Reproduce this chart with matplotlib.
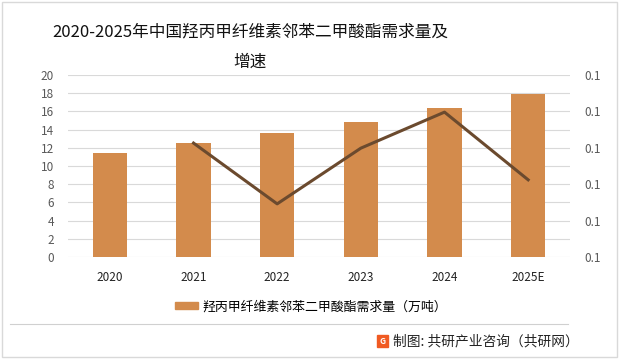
import matplotlib.pyplot as plt
from matplotlib.patches import Rectangle, Patch
from matplotlib.ticker import FormatStrFormatter

plt.rcParams['font.family'] = ['Noto Sans CJK SC', 'DejaVu Sans']

years = ["2020", "2021", "2022", "2023", "2024", "2025E"]
demand = [11.4, 12.5, 13.6, 14.8, 16.4, 17.9]
growth_years = ["2021", "2022", "2023", "2024", "2025E"]
growth = [0.1213, 0.1046, 0.1199, 0.1298, 0.1112]

bar_color = "#D38B4C"
line_color = "#6B4A2E"
grid_color = "#D9D9D9"
tick_color = "#595959"

fig = plt.figure(figsize=(6.19, 3.59), dpi=100)
ax = fig.add_axes([68 / 619, 1 - 257 / 359, 502 / 619, 182 / 359])

x = list(range(len(years)))
ax.bar(x, demand, width=0.41, color=bar_color, zorder=2)
ax.set_ylim(0, 20)
ax.set_yticks(range(0, 21, 2))
ax.set_xlim(-0.5, len(years) - 0.5)
ax.set_xticks(x)
ax.set_xticklabels(years)
ax.grid(axis="y", color=grid_color, linewidth=0.8, zorder=0)
for s in ax.spines.values():
    s.set_visible(False)
ax.tick_params(length=0, labelsize=8.5, colors=tick_color)
ax.tick_params(axis="x", pad=10, colors="#222222")
ax.tick_params(axis="y", pad=10)

ax2 = ax.twinx()
gx = [years.index(y) for y in growth_years]
ax2.plot(gx, growth, color=line_color, linewidth=2.2, zorder=3)
ax2.set_ylim(0.09, 0.14)
ax2.set_yticks([0.09, 0.10, 0.11, 0.12, 0.13, 0.14])
ax2.yaxis.set_major_formatter(FormatStrFormatter("%.1f"))
for s in ax2.spines.values():
    s.set_visible(False)
ax2.tick_params(length=0, labelsize=8.5, colors=tick_color, pad=10)

fig.text(250 / 619, 1 - 32 / 359, "2020-2025年中国羟丙甲纤维素邻苯二甲酸酯需求量及",
         ha="center", va="center", fontsize=12, color="#111111")
fig.text(250 / 619, 1 - 62 / 359, "增速", ha="center", va="center",
         fontsize=12, color="#111111")

fig.legend(handles=[Patch(color=bar_color, label="羟丙甲纤维素邻苯二甲酸酯需求量（万吨）")],
           loc="center", bbox_to_anchor=(311 / 619, 1 - 307 / 359), frameon=False,
           fontsize=9.3, handlelength=1.8, handleheight=0.45, handletextpad=0.3)

fig.add_artist(plt.Line2D([10 / 619, 568 / 619], [1 - 324 / 359, 1 - 324 / 359],
                          color="#D0D0D0", linewidth=0.8))
fig.add_artist(Rectangle((377 / 619, 1 - 347 / 359), 11 / 619, 12 / 359,
                         color="#F05A22", transform=fig.transFigure))
fig.text(382.5 / 619, 1 - 341 / 359, "G", ha="center", va="center",
         fontsize=6, color="white", fontweight="bold")
fig.text(393 / 619, 1 - 341 / 359, "制图: 共研产业咨询（共研网）", ha="left",
         va="center", fontsize=9.9, color="#222222")

fig.add_artist(Rectangle((2 / 619, 2 / 359), 615 / 619, 355 / 359, fill=False,
                         edgecolor="#D9D9D9", linewidth=1, transform=fig.transFigure))

fig.savefig("out.png", dpi=100)
